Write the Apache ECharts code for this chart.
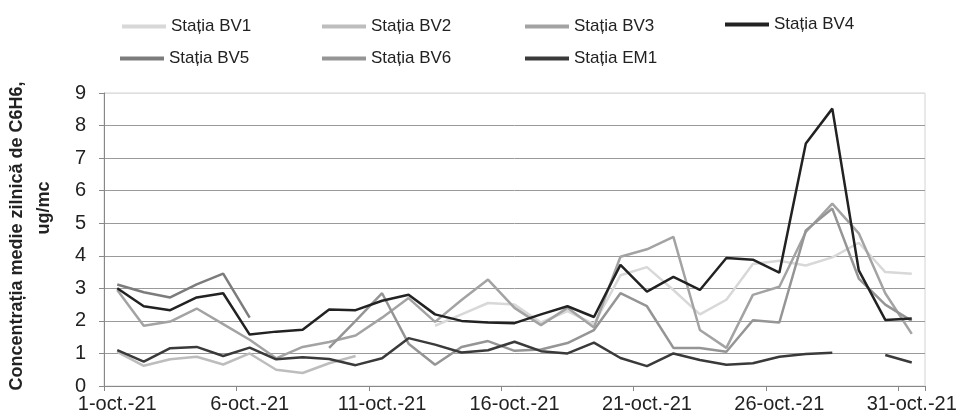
<!DOCTYPE html>
<html>
<head>
<meta charset="utf-8">
<script src="https://cdn.jsdelivr.net/npm/echarts@6/dist/echarts.min.js"></script>
<style>
html,body{margin:0;padding:0;background:#fff;}
#chart{width:961px;height:418px;}
</style>
</head>
<body>
<div id="chart"></div>
<script>
var days = ['1-oct.-21','2-oct.-21','3-oct.-21','4-oct.-21','5-oct.-21','6-oct.-21','7-oct.-21','8-oct.-21','9-oct.-21','10-oct.-21',
  '11-oct.-21','12-oct.-21','13-oct.-21','14-oct.-21','15-oct.-21','16-oct.-21','17-oct.-21','18-oct.-21','19-oct.-21','20-oct.-21',
  '21-oct.-21','22-oct.-21','23-oct.-21','24-oct.-21','25-oct.-21','26-oct.-21','27-oct.-21','28-oct.-21','29-oct.-21','30-oct.-21','31-oct.-21'];
var tickLabels = ['1-oct.-21','6-oct.-21','11-oct.-21','16-oct.-21','21-oct.-21','26-oct.-21','31-oct.-21'];
var yTicks = [0,1,2,3,4,5,6,7,8,9];
var titleLine1 = 'Concentrația medie zilnică de C6H6,';
var titleLine2 = 'ug/mc';

var seriesNames = ['Stația BV1','Stația BV2','Stația BV3','Stația BV4','Stația BV5','Stația BV6','Stația EM1'];

var bv1 = [null,null,null,null,null,null,null,null,null,null,null,null,1.85,2.2,2.55,2.5,1.95,2.3,1.9,3.4,3.65,2.95,2.2,2.65,3.75,3.85,3.7,3.95,4.4,3.5,3.45];
var bv2 = [1.05,0.62,0.82,0.9,0.66,1.0,0.5,0.4,0.7,0.92,null,null,null,null,null,null,null,null,null,null,null,null,null,null,null,null,null,null,null,null,null];
var bv3 = [2.95,1.85,1.98,2.38,1.9,1.42,0.85,1.2,1.35,1.55,2.1,2.7,1.97,2.64,3.27,2.4,1.87,2.4,1.8,3.97,4.2,4.58,1.72,1.17,2.8,3.05,4.73,5.6,4.69,2.85,1.6];
var bv4 = [3.0,2.45,2.33,2.72,2.85,1.58,1.67,1.73,2.35,2.33,2.62,2.8,2.2,2.0,1.95,1.93,2.2,2.45,2.12,3.72,2.9,3.35,2.95,3.93,3.88,3.48,7.45,8.52,3.55,2.03,2.07];
var bv5 = [3.12,2.88,2.72,3.12,3.45,2.1,null,null,null,null,null,null,null,null,null,null,null,null,null,null,null,null,null,null,null,null,null,null,null,null,null];
var bv6 = [null,null,null,null,null,null,null,null,1.17,2.0,2.85,1.3,0.65,1.2,1.38,1.08,1.12,1.32,1.72,2.85,2.45,1.17,1.17,1.05,2.02,1.95,4.78,5.45,3.3,2.5,2.0];
var em1 = [1.1,0.75,1.16,1.2,0.92,1.18,0.82,0.88,0.83,0.64,0.85,1.47,1.27,1.03,1.1,1.36,1.07,1.0,1.33,0.86,0.61,1.0,0.8,0.65,0.7,0.9,0.98,1.02,null,0.95,0.72];

var seriesValues = [bv1,bv2,bv3,bv4,bv5,bv6,em1];
var seriesColors = ['#d8d8d8','#bdbdbd','#a3a3a3','#222222','#7c7c7c','#959595','#3a3a3a'];
var legendLeft = [122,322,525,725,120,322,525];
var legendTop = [18,18,18,16,50,50,50];

var FONT = '"Liberation Sans", Arial, sans-serif';

var chart = echarts.init(document.getElementById('chart'), null, {renderer:'canvas'});

var legends = seriesNames.map(function(n,i){
  return {
    data:[n], left: legendLeft[i], top: legendTop[i], padding:0,
    icon:'rect', itemWidth:44, itemHeight:4, itemGap:0,
    textStyle:{fontSize:17, color:'#222', fontFamily:FONT}
  };
});

var splitColors = yTicks.map(function(t){ return t === 9 ? '#dedede' : '#9a9a9a'; });

var option = {
  backgroundColor:'#ffffff',
  animation:false,
  legend: legends,
  graphic:[
    {type:'text', x:17, y:236, rotation:Math.PI/2,
      style:{text:titleLine1, font:'bold 18px "Liberation Sans", Arial, sans-serif', fill:'#222', align:'center', verticalAlign:'middle'}},
    {type:'text', x:44, y:208, rotation:Math.PI/2,
      style:{text:titleLine2, font:'bold 18px "Liberation Sans", Arial, sans-serif', fill:'#222', align:'center', verticalAlign:'middle'}}
  ],
  grid:{left:104, right:36, top:93, bottom:32, show:true, borderColor:'#d4d4d4', borderWidth:1},
  xAxis:{
    type:'category', data:days, boundaryGap:true,
    axisLine:{show:true, lineStyle:{color:'#888', width:1}},
    axisTick:{show:true, length:5, interval:4, lineStyle:{color:'#888'}},
    axisLabel:{fontSize:20, color:'#222', fontFamily:FONT, margin:8, interval:4,
      formatter:function(v, idx){ return tickLabels[Math.round(idx/5)] || v; }},
    splitLine:{show:false}
  },
  yAxis:{
    type:'value', min:0, max:9, interval:1,
    axisLine:{show:true, lineStyle:{color:'#888', width:1}},
    axisTick:{show:true, length:5, lineStyle:{color:'#888'}},
    axisLabel:{fontSize:20, color:'#222', fontFamily:FONT, margin:18},
    splitLine:{show:true, lineStyle:{color:splitColors, width:1}}
  },
  series: seriesNames.map(function(n,i){
    return {
      name:n, type:'line', data:seriesValues[i],
      symbol:'none', connectNulls:false,
      lineStyle:{color:seriesColors[i], width:2.5},
      itemStyle:{color:seriesColors[i]},
      z: (i===3||i===6) ? 5 : 3
    };
  })
};
chart.setOption(option);
</script>
</body>
</html>
